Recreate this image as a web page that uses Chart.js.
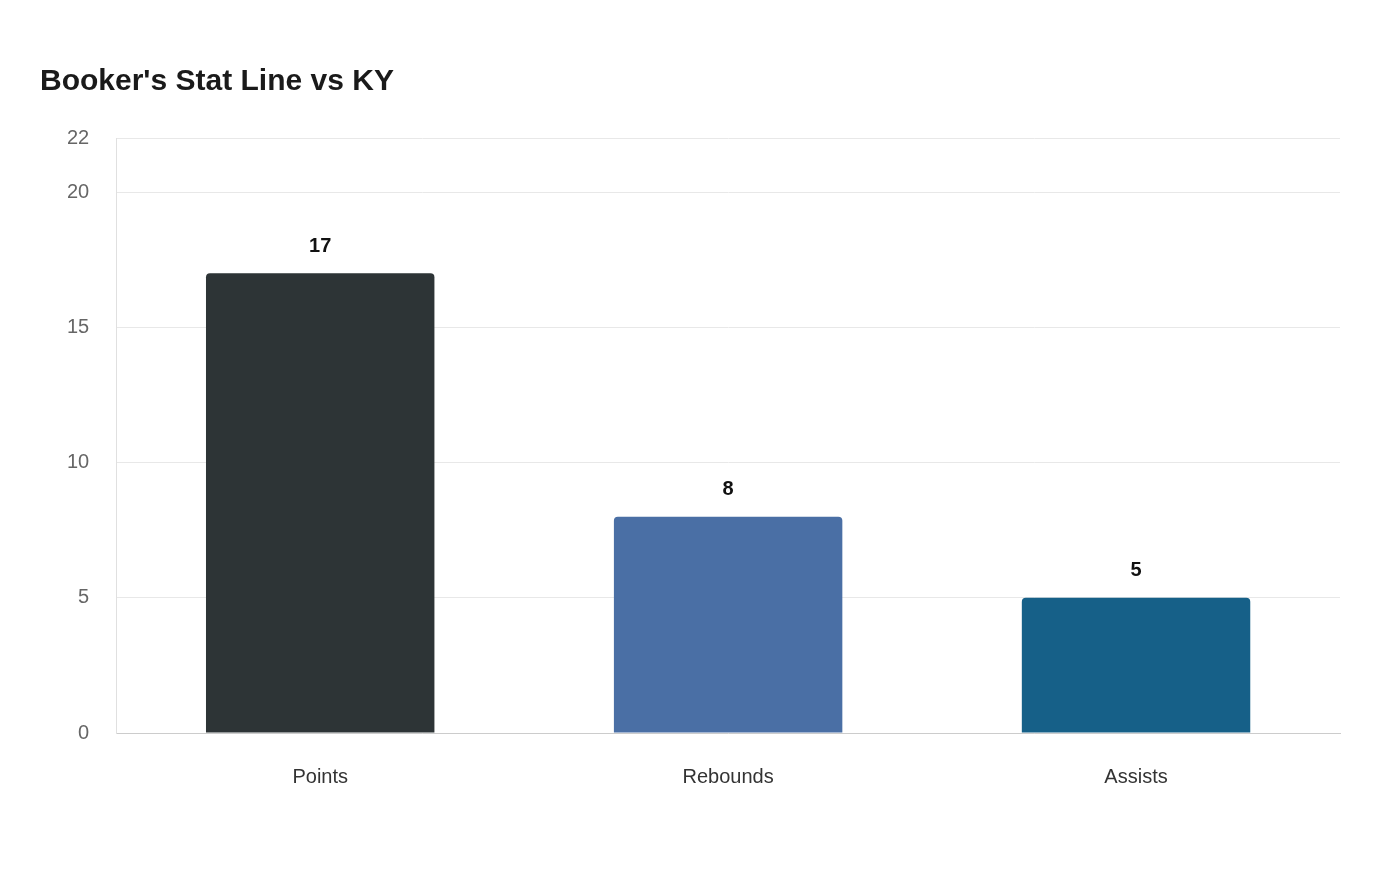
<!DOCTYPE html>
<html><head><meta charset="utf-8">
<script src="https://cdn.jsdelivr.net/npm/chart.js@4/dist/chart.umd.min.js"></script>
<style>html,body{margin:0;padding:0;background:#fff}#wrap{width:1400px;height:880px}</style>
</head><body><div id="wrap"><canvas id="c"></canvas></div>
<script>
const categories = ["Points", "Rebounds", "Assists"];
const values = [17, 8, 5];
const barColors = ["#2d3436", "#4a6fa5", "#166088"];
const titleText = "Booker's Stat Line vs KY";

const labelPlugin = {
  id: 'vals',
  afterDatasetsDraw(chart) {
    const ctx = chart.ctx;
    const meta = chart.getDatasetMeta(0);
    ctx.save();
    ctx.font = 'bold 20px "Liberation Sans", Arial, sans-serif';
    ctx.fillStyle = '#111';
    ctx.textAlign = 'center';
    ctx.textBaseline = 'bottom';
    meta.data.forEach((bar, i) => {
      ctx.fillText(String(values[i]), bar.x, bar.y - 17);
    });
    ctx.restore();
  }
};

new Chart(document.getElementById('c'), {
  type: 'bar',
  data: { labels: categories, datasets: [{ data: values, backgroundColor: barColors,
    borderRadius: {topLeft: 4, topRight: 4}, borderSkipped: 'bottom',
    categoryPercentage: 0.8, barPercentage: 0.7 }] },
  options: {
    responsive: true, maintainAspectRatio: false, animation: false,
    layout: { padding: { left: 40, right: 60, top: 64, bottom: 67 } },
    plugins: {
      legend: { display: false }, tooltip: { enabled: false },
      title: { display: true, text: titleText, align: 'start',
        font: { family: '"Liberation Sans", Arial, sans-serif', size: 30, weight: 'bold' },
        color: '#1a1a1a', padding: { top: 0, bottom: 38 } }
    },
    scales: {
      x: { grid: { display: false }, border: { color: '#ccc' },
        ticks: { color: '#333', padding: 24, font: { family: '"Liberation Sans", Arial, sans-serif', size: 20 } } },
      y: { min: 0, max: 22, ticks: { stepSize: 5, color: '#666', padding: 27,
          font: { family: '"Liberation Sans", Arial, sans-serif', size: 20 } },
        grid: { color: '#e8e8e8', drawTicks: false }, border: { color: '#e0e0e0' } }
    }
  },
  plugins: [labelPlugin]
});
</script></body></html>
